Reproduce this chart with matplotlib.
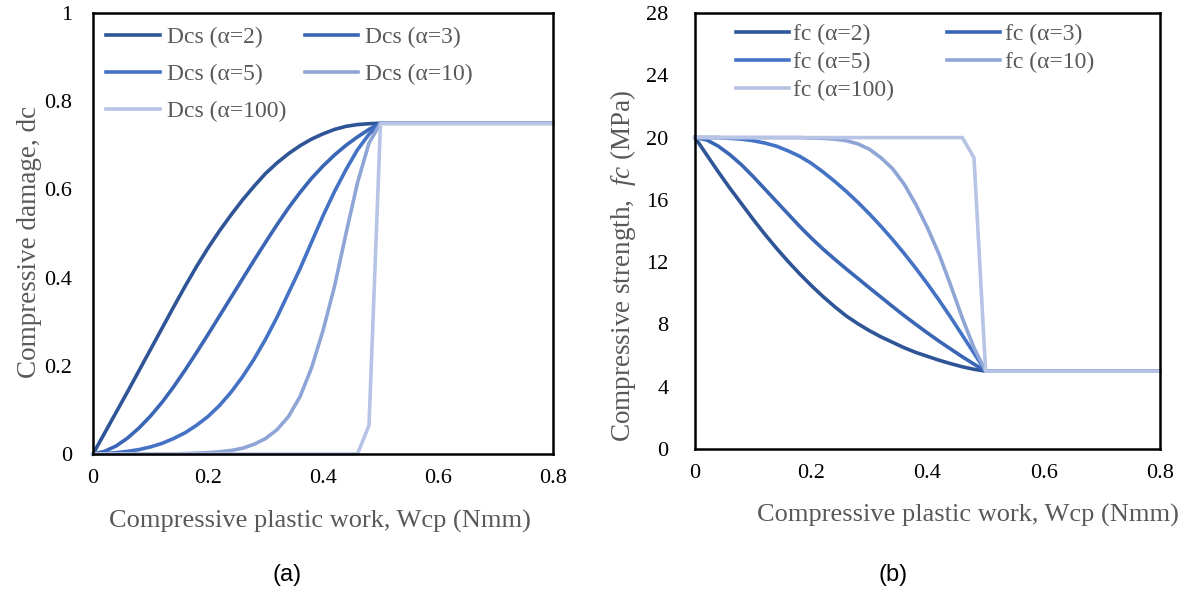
import matplotlib
matplotlib.use("Agg")
import matplotlib.pyplot as plt

plt.rcParams['font.family'] = 'Liberation Serif'
plt.rcParams['mathtext.fontset'] = 'custom'
plt.rcParams['mathtext.rm'] = 'Liberation Serif'
plt.rcParams['mathtext.it'] = 'Liberation Serif:italic'

# plastic work, Wcp (Nmm)
wcp = [0, 0.02, 0.04, 0.06, 0.08, 0.10, 0.12, 0.14, 0.16, 0.18, 0.20, 0.22, 0.24,
       0.26, 0.28, 0.30, 0.32, 0.34, 0.36, 0.38, 0.40, 0.42, 0.44, 0.46, 0.48, 0.50, 0.80]

alphas = ['2', '3', '5', '10', '100']

# compressive damage dc
dc_a2 = [0, .047, .094, .141, .189, .237, .285, .333, .38, .425, .467, .506, .542, .576,
         .607, .636, .66, .681, .699, .714, .726, .736, .743, .747, .749, .75, .75]
dc_a3 = [0, .006, .018, .036, .059, .086, .117, .152, .19, .23, .271, .313, .355, .397,
         .439, .48, .52, .558, .593, .625, .653, .678, .70, .719, .736, .75, .75]
dc_a5 = [0, .001, .003, .006, .01, .016, .024, .035, .048, .065, .085, .11, .14, .175,
         .215, .26, .31, .365, .42, .48, .54, .595, .645, .69, .725, .75, .75]
dc_a10 = [0, 0, 0, 0, 0, 0, 0, 0, .001, .002, .003, .005, .008, .013, .022, .035, .055,
          .085, .13, .195, .28, .38, .50, .615, .705, .75, .75]
dc_a100 = [0, 0, 0, 0, 0, 0, 0, 0, 0, 0, 0, 0, 0, 0, 0, 0, 0, 0, 0, 0, 0, 0, 0, 0,
           .065, .75, .75]

# compressive strength fc (MPa)
fc_a2 = [20, 18.9, 17.8, 16.75, 15.75, 14.75, 13.8, 12.9, 12.05, 11.25, 10.5, 9.8,
         9.15, 8.55, 8.05, 7.6, 7.2, 6.85, 6.5, 6.2, 5.95, 5.7, 5.48, 5.28, 5.12, 5.0, 5.0]
fc_a3 = [20, 19.85, 19.45, 18.9, 18.25, 17.5, 16.7, 15.9, 15.1, 14.3, 13.55, 12.85,
         12.2, 11.57, 10.96, 10.35, 9.75, 9.15, 8.56, 8.0, 7.45, 6.92, 6.42, 5.92, 5.45,
         5.0, 5.0]
fc_a5 = [20, 20, 20, 19.95, 19.9, 19.8, 19.65, 19.45, 19.15, 18.8, 18.35, 17.8, 17.2,
         16.55, 15.85, 15.1, 14.3, 13.45, 12.55, 11.6, 10.6, 9.55, 8.45, 7.3, 6.15,
         5.0, 5.0]
fc_a10 = [20, 20, 20, 20, 20, 20, 20, 20, 20, 20, 19.97, 19.95, 19.9, 19.8, 19.6, 19.25,
          18.7, 18.0, 17.0, 15.7, 14.2, 12.5, 10.5, 8.4, 6.5, 5.0, 5.0]
fc_a100 = [20, 20, 20, 20, 20, 20, 20, 20, 20, 20, 20, 20, 20, 20, 20, 20, 20, 20, 20,
           20, 20, 20, 20, 20, 18.7, 5.0, 5.0]

colors = ['#2F5597', '#3A66B5', '#4472C4', '#8FA5D6', '#B7C4E6']
label_grey = '#595959'

fig = plt.figure(figsize=(11.92, 5.94), dpi=100)
ax1 = fig.add_axes([93/1192, 1-454/594, 460/1192, 441/594])
ax2 = fig.add_axes([695/1192, 1-449/594, 465/1192, 436/594])

for ax in (ax1, ax2):
    for s in ax.spines.values():
        s.set_linewidth(1.8)
        s.set_color('black')
    ax.tick_params(length=0, labelsize=16, colors='black')
    ax.set_xlim(0, 0.8)
    ax.set_xticks([0, 0.2, 0.4, 0.6, 0.8])
    ax.set_xticklabels(['0', '0.2', '0.4', '0.6', '0.8'])
    ax.tick_params(axis='x', pad=11)

order = [0, 2, 4, 1, 3]

# (a) damage
lines1 = []
for d, a, c in zip([dc_a2, dc_a3, dc_a5, dc_a10, dc_a100], alphas, colors):
    ln, = ax1.plot(wcp, d, color=c, lw=2.6, clip_on=False, label='Dcs (\u03b1=%s)' % a)
    lines1.append(ln)
ax1.set_ylim(0, 1)
ax1.set_yticks([0, 0.2, 0.4, 0.6, 0.8, 1])
ax1.set_yticklabels(['0', '0.2', '0.4', '0.6', '0.8', '1'])
ax1.tick_params(axis='y', pad=15)
ax1.set_ylabel('Compressive damage, dc', fontsize=19.5, color=label_grey)
ax1.yaxis.set_label_coords(-0.11, 0.48)
ax1.set_xlabel('Compressive plastic work, Wcp (Nmm)', fontsize=19, color=label_grey)
ax1.xaxis.set_label_coords(0.493, -0.127)
ax1.legend([lines1[i] for i in order], [lines1[i].get_label() for i in order],
           ncol=2, frameon=False, fontsize=17, loc='upper left',
           bbox_to_anchor=(-0.017, 1.017), handlelength=2.25, handletextpad=0.3,
           columnspacing=0.8, labelspacing=0.65, labelcolor=label_grey)

# (b) strength
lines2 = []
for f, a, c in zip([fc_a2, fc_a3, fc_a5, fc_a10, fc_a100], alphas, colors):
    ln, = ax2.plot(wcp, f, color=c, lw=2.6, clip_on=False, label='fc (\u03b1=%s)' % a)
    lines2.append(ln)
ax2.set_ylim(0, 28)
ax2.set_yticks(range(0, 29, 4))
ax2.tick_params(axis='y', pad=19)
ax2.set_ylabel('Compressive strength,  $\\mathit{fc}$ (MPa)', fontsize=19.5,
               color=label_grey)
ax2.yaxis.set_label_coords(-0.123, 0.42)
ax2.set_xlabel('Compressive plastic work, Wcp (Nmm)', fontsize=19, color=label_grey)
ax2.xaxis.set_label_coords(0.587, -0.126)
ax2.legend([lines2[i] for i in order], [lines2[i].get_label() for i in order],
           ncol=2, frameon=False, fontsize=17, loc='upper left',
           bbox_to_anchor=(0.042, 1.024), handlelength=2.25, handletextpad=0.18,
           columnspacing=2.25, labelspacing=0.27, labelcolor=label_grey)

fig.text(287/1192, 1-575/594, '(a)', family='Liberation Sans', fontsize=17,
         ha='center', va='center')
fig.text(893/1192, 1-575/594, '(b)', family='Liberation Sans', fontsize=17,
         ha='center', va='center')

fig.savefig('out.png', dpi=100)
